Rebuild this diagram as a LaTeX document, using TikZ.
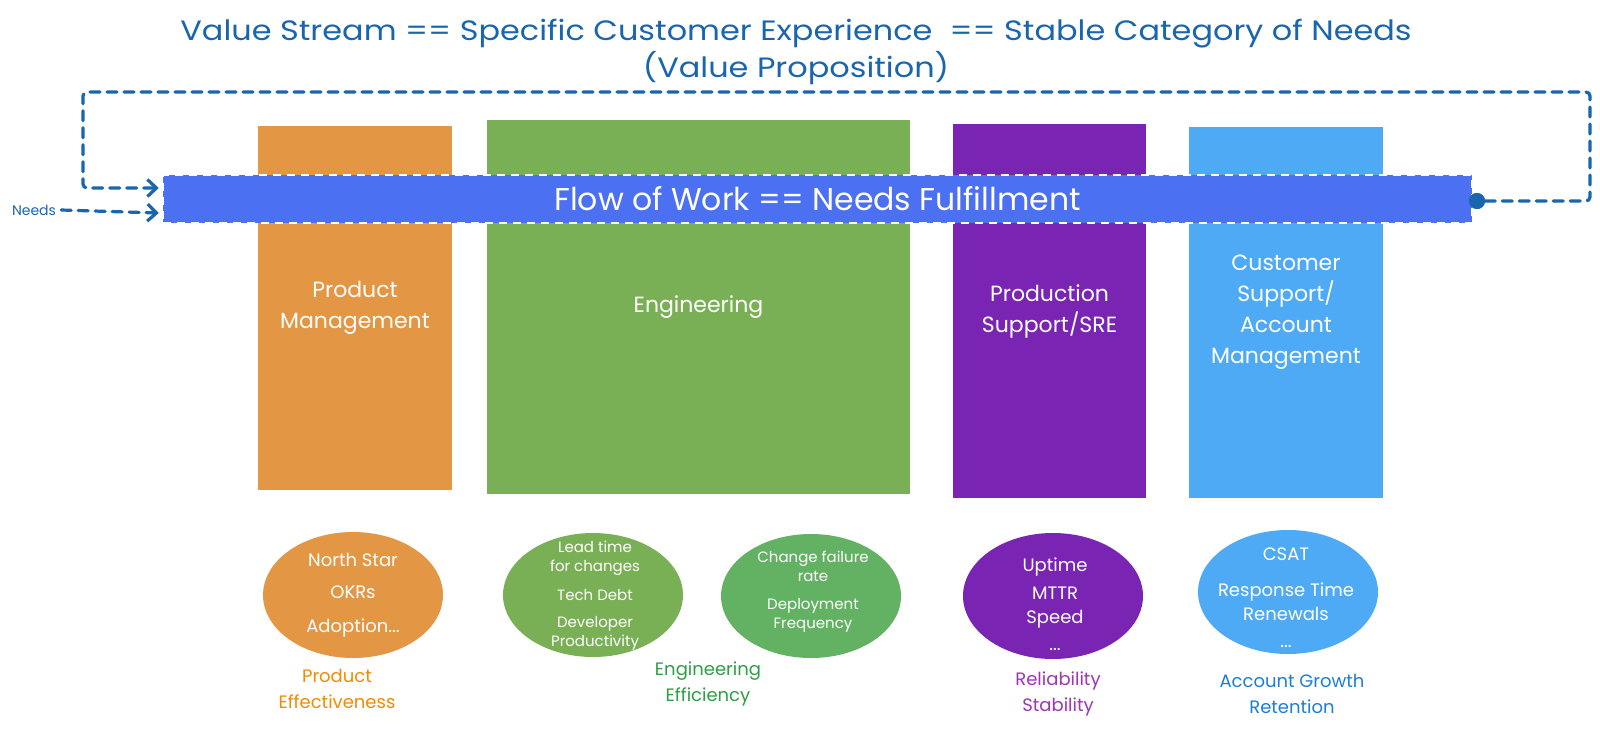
\documentclass[tikz,border=0pt]{standalone}
\usepackage{fontspec}
\setmainfont{Poppins}
\usetikzlibrary{arrows.meta,shapes.geometric}
\definecolor{cOrange}{RGB}{227,150,68}
\definecolor{cGreen}{RGB}{122,176,85}
\definecolor{cGreenB}{RGB}{99,177,99}
\definecolor{cPurple}{RGB}{122,36,180}
\definecolor{cLBlue}{RGB}{79,170,246}
\definecolor{cBar}{RGB}{76,112,242}
\definecolor{cLine}{RGB}{26,102,174}
\definecolor{tOrange}{RGB}{240,140,0}
\definecolor{tGreen}{RGB}{47,158,68}
\definecolor{tPurple}{RGB}{156,54,181}
\definecolor{tBlue}{RGB}{28,126,214}
\tikzset{
  team/.style={rectangle, draw=none, inner sep=0pt, text=white, align=center,
    font=\fontsize{22}{31}\selectfont},
  metric/.style={ellipse, draw=none, inner sep=0pt, minimum width=180pt, minimum height=124pt},
  mtext/.style={text=white, align=center, inner sep=0pt},
  goal/.style={align=center, inner sep=0pt, font=\fontsize{18}{26}\selectfont},
  loopline/.style={draw=cLine, line width=3.2pt, dash pattern=on 10pt off 7pt, line cap=round},
}
\begin{document}
\begin{tikzpicture}[x=1pt,y=-1pt]
\useasboundingbox[fill=white] (0,0) rectangle (1600,728);

% title
\node[text=cLine, inner sep=0pt] (title) at (796,52)
  {\scalebox{1.14}[1]{\fontsize{28}{35}\selectfont\begin{tabular}{@{}c@{}}Value Stream == Specific Customer Experience\ \ == Stable Category of Needs\\(Value Proposition)\end{tabular}}};

% team boxes
\node[team, fill=cOrange, minimum width=194pt, minimum height=364pt] (pm) at (355,308) {Product\\Management};
\node[team, fill=cGreen, minimum width=423pt, minimum height=374pt] (eng) at (698.5,307) {Engineering};
\node[team, fill=cPurple, minimum width=193pt, minimum height=374pt] (sre) at (1049.5,311) {Production\\Support/SRE};
\node[team, fill=cLBlue, minimum width=194pt, minimum height=371pt] (cs) at (1286,312.5) {Customer\\Support/\\Account\\Management};

% flow bar
\node[rectangle, fill=cBar, draw=white, line width=2.5pt, dash pattern=on 8pt off 6pt,
  minimum width=1309pt, minimum height=48pt, inner sep=0pt, text=white,
  font=\fontsize{31.5}{36}\selectfont] (bar) at (817.5,199) {Flow of Work == Needs Fulfillment};

% loop back
\node[circle, fill=cLine, minimum size=16pt, inner sep=0pt] (dot) at (1477,201) {};
\coordinate (cR) at (1590,92);
\coordinate (cL) at (83,92);
\draw[loopline, rounded corners=4pt, -{Straight Barb[length=9pt,width=17pt,line width=3.2pt]}]
  (dot.east) -| (cR) -- (cL) |- ([yshift=11pt,xshift=-3pt]bar.west);
\node[circle, fill=cLine, minimum size=16pt, inner sep=0pt] at (dot) {};

% needs input
\node[text=cLine, inner sep=0pt, font=\fontsize{14}{16}\selectfont] (needs) at (34,210) {Needs};
\draw[loopline, -{Straight Barb[length=9pt,width=17pt,line width=3.2pt]}]
  ([xshift=5pt]needs.east) -- ([yshift=-14pt,xshift=-3pt]bar.west);

% metric ellipses
\node[metric, fill=cOrange, minimum height=126pt] (m1) at (353,595) {};
\node[mtext, font=\fontsize{18}{32}\selectfont] (m1t) at (353,595) {North Star\\OKRs\\[2pt]Adoption...};

\node[metric, fill=cGreen, minimum height=124pt] (m2) at (593,595) {};
\node[mtext, font=\fontsize{15}{19}\selectfont] (m2t) at (595,596)
  {Lead time\\for changes\\[10pt]Tech Debt\\[8pt]Developer\\Productivity};

\node[metric, fill=cGreenB] (m3) at (811,596) {};
\node[mtext, font=\fontsize{15}{19}\selectfont] (m3t) at (813,592)
  {Change failure\\rate\\[9pt]Deployment\\Frequency};

\node[metric, fill=cPurple, minimum height=126pt] (m4) at (1053,596) {};
\node[mtext, font=\fontsize{18}{28}\selectfont] (m4t) at (1055,604)
  {Uptime\\MTTR\\[-4pt]Speed\\[-1pt]...};

\node[metric, fill=cLBlue] (m5) at (1288,592) {};
\node[mtext, font=\fontsize{18}{28}\selectfont] (m5t) at (1286,598)
  {CSAT\\[8pt]Response Time\\[-4pt]Renewals\\[-1pt]...};

% goal labels
\node[goal, text=tOrange] (g1) at (337,689) {Product\\Effectiveness};
\node[goal, text=tGreen] (g2) at (708,684) {Engineering\\Efficiency};
\node[goal, text=tPurple] (g3) at (1058,694) {Reliability\\Stability};
\node[goal, text=tBlue] (g4) at (1292,694) {Account Growth\\Retention};
\end{tikzpicture}
\end{document}
